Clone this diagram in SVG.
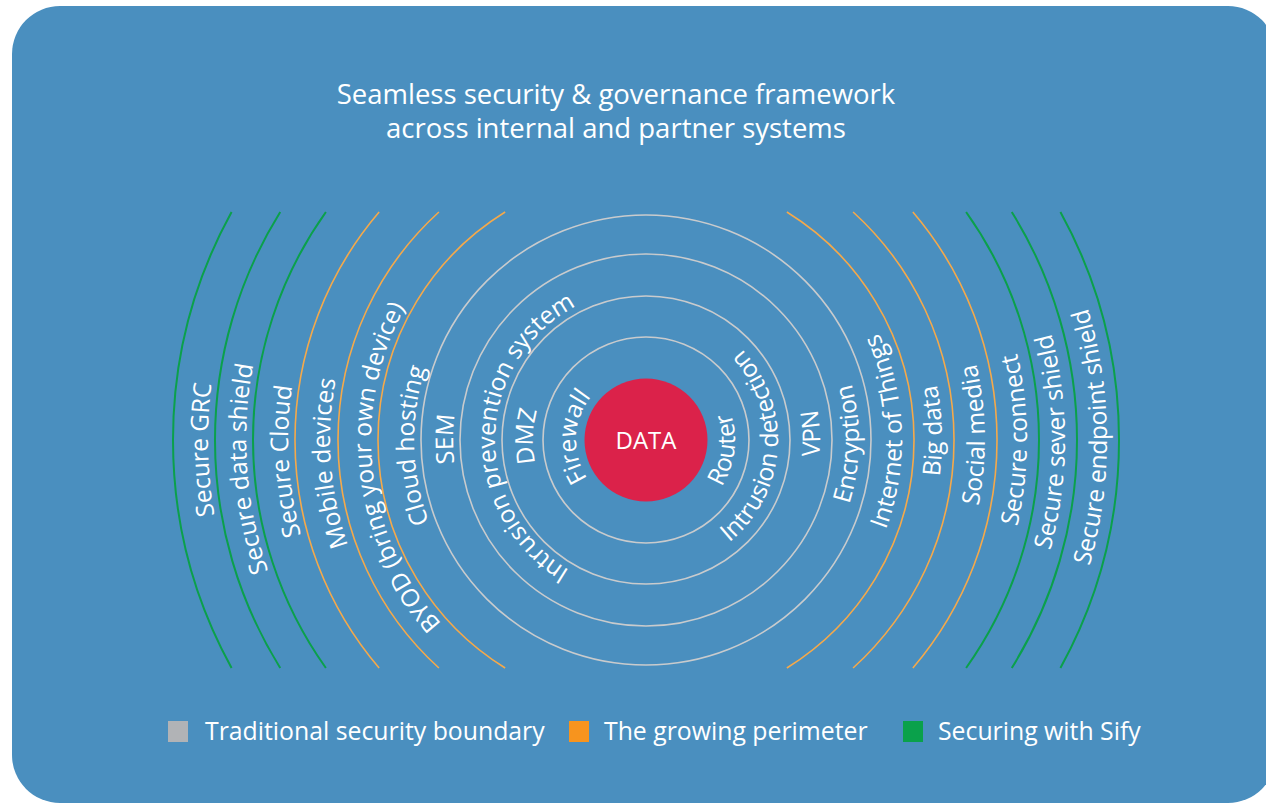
<svg xmlns="http://www.w3.org/2000/svg" width="1266" height="805" viewBox="0 0 1266 805">
<style>
.bg{fill:#4A8FBF}
.grey{fill:none;stroke:#C9CBCD;stroke-width:1.6}
.orange{fill:none;stroke:#F5A94A;stroke-width:1.6}
.green{fill:none;stroke:#0BA04B;stroke-width:2}
.lbl{font-family:"Open Sans","Noto Sans",sans-serif;font-size:24.5px;fill:#FFFFFF}
.title{font-family:"Open Sans","Noto Sans",sans-serif;font-size:27.5px;fill:#FFFFFF;text-anchor:middle}
.leg{font-family:"Open Sans","Noto Sans",sans-serif;font-size:24.8px;fill:#FFFFFF}
</style>
<defs>
<path id="pFirewall" d="M646,510 A70,70 0 0 1 646,370"/>
<path id="pDMZ" d="M646,553 A113,113 0 0 1 646,327"/>
<path id="pIPS" d="M646,591 A151,151 0 0 1 646,289"/>
<path id="pSEM" d="M646,633 A193,193 0 0 1 646,247"/>
<path id="pCloudH" d="M646,672 A232,232 0 0 1 646,208"/>
<path id="pBYOD" d="M646,715 A275,275 0 0 1 646,165"/>
<path id="pMobile" d="M646,756 A316,316 0 0 1 646,124"/>
<path id="pSCloud" d="M646,798 A358,358 0 0 1 646,82"/>
<path id="pSData" d="M646,840 A400,400 0 0 1 646,40"/>
<path id="pSGRC" d="M646,878 A438,438 0 0 1 646,2"/>
<path id="pRouter" d="M646,529 A89,89 0 0 0 646,351"/>
<path id="pIDet" d="M646,572 A132,132 0 0 0 646,308"/>
<path id="pVPN" d="M646,614 A174,174 0 0 0 646,266"/>
<path id="pEnc" d="M646,653 A213,213 0 0 0 646,227"/>
<path id="pIoT" d="M646,696 A256,256 0 0 0 646,184"/>
<path id="pBig" d="M646,736 A296,296 0 0 0 646,144"/>
<path id="pSocial" d="M646,779 A339,339 0 0 0 646,101"/>
<path id="pSConn" d="M646,821 A381,381 0 0 0 646,59"/>
<path id="pSSever" d="M646,859 A419,419 0 0 0 646,21"/>
<path id="pSEnd" d="M646,901 A461,461 0 0 0 646,-21"/>
</defs>

<rect id="background" class="bg" x="12" y="6" width="1264" height="797" rx="48" ry="48"/>

<g id="title">
<text class="title" x="616" y="104">Seamless security &amp; governance framework</text>
<text class="title" x="616" y="138">across internal and partner systems</text>
</g>

<g id="rings-traditional">
<circle class="grey" cx="646" cy="440" r="103"/>
<circle class="grey" cx="646" cy="440" r="144"/>
<circle class="grey" cx="646" cy="440" r="186"/>
<circle class="grey" cx="646" cy="440" r="225"/>
</g>

<g id="rings-perimeter">
<path class="orange" d="M505.14,212 A268,268 0 0 0 505.14,668"/>
<path class="orange" d="M438.92,212 A308,308 0 0 0 438.92,668"/>
<path class="orange" d="M379.13,212 A351,351 0 0 0 379.13,668"/>
<path class="orange" d="M786.86,212 A268,268 0 0 1 786.86,668"/>
<path class="orange" d="M853.08,212 A308,308 0 0 1 853.08,668"/>
<path class="orange" d="M912.87,212 A351,351 0 0 1 912.87,668"/>
</g>

<g id="rings-sify">
<path class="green" d="M325.90,212 A393,393 0 0 0 325.90,668"/>
<path class="green" d="M280.24,212 A431,431 0 0 0 280.24,668"/>
<path class="green" d="M231.58,212 A473,473 0 0 0 231.58,668"/>
<path class="green" d="M966.10,212 A393,393 0 0 1 966.10,668"/>
<path class="green" d="M1011.76,212 A431,431 0 0 1 1011.76,668"/>
<path class="green" d="M1060.42,212 A473,473 0 0 1 1060.42,668"/>
</g>

<g id="data">
<circle cx="646" cy="440" r="61.5" fill="#DB224A"/>
<text x="646" y="448.5" text-anchor="middle" style="font-family:'Open Sans','Noto Sans',sans-serif;font-size:24px;fill:#FFFFFF">DATA</text>
</g>

<g id="labels-left" text-anchor="middle">
<text id="l-firewall" class="lbl"><textPath href="#pFirewall" startOffset="112.7">Firewall</textPath></text>
<text id="l-dmz" class="lbl"><textPath href="#pDMZ" startOffset="180.8">DMZ</textPath></text>
<text id="l-ips" class="lbl"><textPath href="#pIPS" startOffset="240.9">Intrusion prevention system</textPath></text>
<text id="l-sem" class="lbl"><textPath href="#pSEM" startOffset="304.1">SEM</textPath></text>
<text id="l-cloudh" class="lbl"><textPath href="#pCloudH" startOffset="358.6">Cloud hosting</textPath></text>
<text id="l-byod" class="lbl"><textPath href="#pBYOD" startOffset="400.3">BYOD (bring your own device)</textPath></text>
<text id="l-mobile" class="lbl"><textPath href="#pMobile" startOffset="472.9">Mobile devices</textPath></text>
<text id="l-scloud" class="lbl"><textPath href="#pSCloud" startOffset="540.8">Secure Cloud</textPath></text>
<text id="l-sdata" class="lbl"><textPath href="#pSData" startOffset="598.9">Secure data shield</textPath></text>
<text id="l-sgrc" class="lbl"><textPath href="#pSGRC" startOffset="678.2">Secure GRC</textPath></text>
</g>

<g id="labels-right" text-anchor="middle">
<text id="r-router" class="lbl"><textPath href="#pRouter" startOffset="128.8">Router</textPath></text>
<text id="r-idet" class="lbl"><textPath href="#pIDet" startOffset="198.7">Intrusion detection</textPath></text>
<text id="r-vpn" class="lbl"><textPath href="#pVPN" startOffset="280.1">VPN</textPath></text>
<text id="r-enc" class="lbl"><textPath href="#pEnc" startOffset="330.4">Encryption</textPath></text>
<text id="r-iot" class="lbl"><textPath href="#pIoT" startOffset="411.4">Internet of Things</textPath></text>
<text id="r-big" class="lbl"><textPath href="#pBig" startOffset="474.2">Big data</textPath></text>
<text id="r-social" class="lbl"><textPath href="#pSocial" startOffset="537.6">Social media</textPath></text>
<text id="r-sconn" class="lbl"><textPath href="#pSConn" startOffset="598.5">Secure connect</textPath></text>
<text id="r-ssever" class="lbl"><textPath href="#pSSever" startOffset="656.1">Secure sever shield</textPath></text>
<text id="r-send" class="lbl"><textPath href="#pSEnd" startOffset="727.2">Secure endpoint shield</textPath></text>
</g>

<g id="legend">
<rect x="168" y="721" width="20" height="21" fill="#B1B3B6"/>
<text class="leg" x="205" y="740">Traditional security boundary</text>
<rect x="569" y="721" width="20" height="21" fill="#F7941E"/>
<text class="leg" x="604" y="740">The growing perimeter</text>
<rect x="903" y="721" width="20" height="21" fill="#0AA14B"/>
<text class="leg" x="938" y="740">Securing with Sify</text>
</g>
</svg>
